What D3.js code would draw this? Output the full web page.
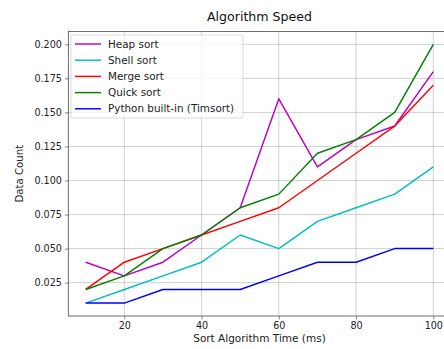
<!DOCTYPE html>
<html>
<head>
<meta charset="utf-8">
<script src="https://cdn.jsdelivr.net/npm/d3@7"></script>
<style>
  body { margin: 0; background: #fff; }
  svg { display: block; font-family: "DejaVu Sans", sans-serif; }
</style>
</head>
<body>
<svg width="444" height="349"></svg>
<script>
const times = [10, 20, 30, 40, 50, 60, 70, 80, 90, 100];
const heapSort = [0.04, 0.03, 0.04, 0.06, 0.08, 0.16, 0.11, 0.13, 0.14, 0.18];
const shellSort = [0.01, 0.02, 0.03, 0.04, 0.06, 0.05, 0.07, 0.08, 0.09, 0.11];
const mergeSort = [0.02, 0.04, 0.05, 0.06, 0.07, 0.08, 0.10, 0.12, 0.14, 0.17];
const quickSort = [0.02, 0.03, 0.05, 0.06, 0.08, 0.09, 0.12, 0.13, 0.15, 0.20];
const timSort = [0.01, 0.01, 0.02, 0.02, 0.02, 0.03, 0.04, 0.04, 0.05, 0.05];
const seriesNames = ["Heap sort", "Shell sort", "Merge sort", "Quick sort", "Python built-in (Timsort)"];
const xTicks = [20, 40, 60, 80, 100];
const yTicks = [0.025, 0.05, 0.075, 0.1, 0.125, 0.15, 0.175, 0.2];

const seriesColors = ["#bf00bf", "#00bfbf", "#ff0000", "#008000", "#0000ff"];
const allSeries = [heapSort, shellSort, mergeSort, quickSort, timSort];

const svg = d3.select("svg");
const plotLeft = 68.3, plotRight = 450.7, plotTop = 31.4, plotBottom = 316;

// matplotlib style 5% margins
const x = d3.scaleLinear().domain([5.5, 104.5]).range([plotLeft, plotRight]);
const y = d3.scaleLinear().domain([0.0005, 0.2095]).range([plotBottom, plotTop]);

svg.append("clipPath").attr("id", "plotclip")
  .append("rect").attr("x", plotLeft).attr("y", plotTop)
  .attr("width", plotRight - plotLeft).attr("height", plotBottom - plotTop);

// grid
const grid = svg.append("g").attr("stroke", "#b0b0b0").attr("stroke-width", 0.6);
xTicks.forEach(t => grid.append("line")
  .attr("x1", x(t)).attr("x2", x(t)).attr("y1", plotTop).attr("y2", plotBottom));
yTicks.forEach(t => grid.append("line")
  .attr("x1", plotLeft).attr("x2", plotRight).attr("y1", y(t)).attr("y2", y(t)));

// lines
const line = d3.line().x((d, i) => x(times[i])).y(d => y(d));
const lines = svg.append("g").attr("clip-path", "url(#plotclip)");
allSeries.forEach((s, i) => {
  lines.append("path")
    .datum(s)
    .attr("d", line)
    .attr("fill", "none")
    .attr("stroke", seriesColors[i])
    .attr("stroke-width", 1.45)
    .attr("stroke-linejoin", "round");
});

// axes
const xAxis = svg.append("g")
  .attr("transform", `translate(0,${plotBottom})`)
  .call(d3.axisBottom(x).tickValues(xTicks).tickSize(3.4).tickPadding(3).tickFormat(d3.format("d")));
const yAxis = svg.append("g")
  .attr("transform", `translate(${plotLeft},0)`)
  .call(d3.axisLeft(y).tickValues(yTicks).tickSize(3.4).tickPadding(3).tickFormat(d3.format(".3f")));
[xAxis, yAxis].forEach(a => {
  a.select(".domain").remove();
  a.selectAll("text").attr("font-size", 9.6).attr("fill", "#222").attr("font-family", "DejaVu Sans");
  a.selectAll("line").attr("stroke", "#333").attr("stroke-width", 0.6);
});

// frame
svg.append("rect")
  .attr("x", plotLeft).attr("y", plotTop)
  .attr("width", plotRight - plotLeft).attr("height", plotBottom - plotTop)
  .attr("fill", "none").attr("stroke", "#333").attr("stroke-width", 0.7);

// labels
svg.append("text")
  .attr("x", (plotLeft + plotRight) / 2).attr("y", 21)
  .attr("text-anchor", "middle").attr("font-size", 12.6).attr("fill", "#111")
  .text("Algorithm Speed");
svg.append("text")
  .attr("x", (plotLeft + plotRight) / 2).attr("y", 342)
  .attr("text-anchor", "middle").attr("font-size", 10.5).attr("fill", "#222")
  .text("Sort Algorithm Time (ms)");
svg.append("text")
  .attr("transform", `translate(23,${(plotTop + plotBottom) / 2}) rotate(-90)`)
  .attr("text-anchor", "middle").attr("font-size", 10.2).attr("fill", "#222")
  .text("Data Count");

// legend
const legend = svg.append("g").attr("transform", "translate(71,35)");
legend.append("rect")
  .attr("width", 172).attr("height", 83).attr("rx", 2)
  .attr("fill", "#fff").attr("fill-opacity", 0.8)
  .attr("stroke", "#ccc").attr("stroke-width", 0.7);
seriesNames.forEach((name, i) => {
  const yy = 9 + i * 16.2;
  legend.append("line")
    .attr("x1", 4).attr("x2", 30).attr("y1", yy).attr("y2", yy)
    .attr("stroke", seriesColors[i]).attr("stroke-width", 1.45);
  legend.append("text")
    .attr("x", 37).attr("y", yy + 3.6)
    .attr("font-size", 10.4).attr("fill", "#222")
    .text(name);
});
</script>
</body>
</html>
